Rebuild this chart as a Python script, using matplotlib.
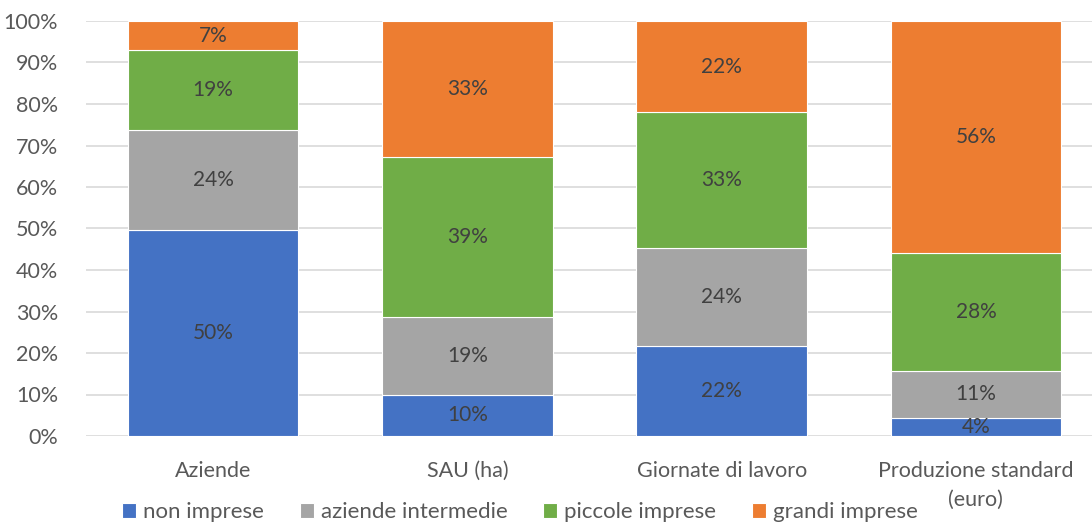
import matplotlib.pyplot as plt
from matplotlib.ticker import PercentFormatter
import numpy as np

plt.rcParams['font.family'] = ['Lato', 'DejaVu Sans']

categories = ['Aziende', 'SAU (ha)', 'Giornate di lavoro', 'Produzione standard\n(euro)']
series_names = ['non imprese', 'aziende intermedie', 'piccole imprese', 'grandi imprese']
non_imprese = [49.6, 9.9, 21.6, 4.3]
aziende_intermedie = [24.2, 18.8, 23.8, 11.4]
piccole_imprese = [19.2, 38.6, 32.6, 28.4]
grandi_imprese = [7.0, 32.7, 22.0, 55.9]
colors = ['#4472c4', '#a5a5a5', '#70ad47', '#ed7d31']

fig = plt.figure(figsize=(10.92, 5.24), dpi=100)
ax = fig.add_axes([86 / 1092, 88 / 524, 1 - 86 / 1092, 415 / 524])

x = np.arange(len(categories))
bottom = np.zeros(len(categories))
for name, vals, c in zip(series_names,
                         [non_imprese, aziende_intermedie, piccole_imprese, grandi_imprese],
                         colors):
    vals = np.array(vals)
    ax.bar(x, vals, 0.67, bottom=bottom, color=c, label=name,
           edgecolor='white', linewidth=0.8, zorder=3)
    for xi, b, v in zip(x, bottom, vals):
        ax.text(xi, b + v / 2, '{:.0f}%'.format(v), ha='center', va='center',
                fontsize=15, color='#404040', zorder=4)
    bottom += vals

ax.set_ylim(0, 100)
ax.set_xlim(-0.5, 3.5 - 11 / 254)
ax.set_yticks(np.arange(0, 101, 10))
ax.yaxis.set_major_formatter(PercentFormatter(decimals=0))
ax.set_xticks(x)
ax.set_xticklabels(categories, linespacing=1.55, va='top')
ax.grid(axis='y', color='#d9d9d9', linewidth=1.2, zorder=0)
for s in ax.spines.values():
    s.set_visible(False)
ax.tick_params(axis='both', length=0, labelsize=15.5, colors='#595959')
ax.tick_params(axis='y', pad=20)
ax.tick_params(axis='x', pad=18)

fig.legend(loc='center', bbox_to_anchor=(0.476, 0.023), ncol=4, frameon=False,
           fontsize=16, labelcolor='#595959', handlelength=0.65, handleheight=0.65,
           handletextpad=0.3, columnspacing=1.6)

fig.savefig('out.png', dpi=100)
